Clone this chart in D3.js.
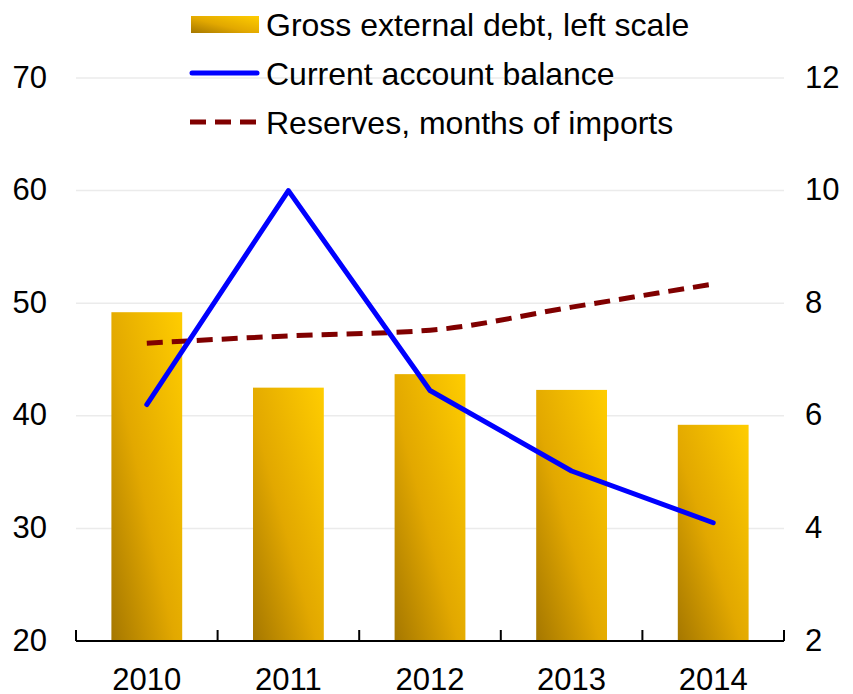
<!DOCTYPE html>
<html><head><meta charset="utf-8">
<script src="https://cdn.jsdelivr.net/npm/d3@7"></script>
<style>body{margin:0;background:#fff}svg{display:block;font-family:"Liberation Sans",Arial,sans-serif}</style>
</head><body><svg id="c" width="853" height="694"></svg>
<script>
const years = ["2010","2011","2012","2013","2014"];
const grossDebt = [49.2, 42.5, 43.7, 42.3, 39.2];
const currentAccount = [6.2, 10.0, 6.45, 5.02, 4.1];
const reserves = [7.29, 7.42, 7.52, 7.93, 8.34];
const leftTicks = [20,30,40,50,60,70];
const rightTicks = [2,4,6,8,10,12];
const legendLabels = ["Gross external debt, left scale","Current account balance","Reserves, months of imports"];

const svg = d3.select("#c");
const X0=76, X1=784, Y0=641, Y1=78;
const x = d3.scaleBand().domain(years).range([X0,X1]).paddingInner(0.5).paddingOuter(0.25);
const yL = d3.scaleLinear().domain([20,70]).range([Y0,Y1]);
const yR = d3.scaleLinear().domain([2,12]).range([Y0,Y1]);
const fs = 31;

const defs = svg.append("defs");
const g = defs.append("linearGradient").attr("id","gold").attr("x1",0).attr("y1",1).attr("x2",1).attr("y2",0);
g.append("stop").attr("offset","0%").attr("stop-color","#a57700");
g.append("stop").attr("offset","45%").attr("stop-color","#e2a800");
g.append("stop").attr("offset","100%").attr("stop-color","#ffcd00");

// gridlines
svg.append("g").selectAll("line").data(leftTicks.slice(1)).join("line")
  .attr("x1",X0).attr("x2",X1).attr("y1",d=>yL(d)).attr("y2",d=>yL(d))
  .attr("stroke","#ebebeb").attr("stroke-width",1.5);

// bars
svg.append("g").selectAll("rect").data(years).join("rect")
  .attr("x",d=>x(d)).attr("width",x.bandwidth())
  .attr("y",(d,i)=>yL(grossDebt[i])).attr("height",(d,i)=>Y0-yL(grossDebt[i]))
  .attr("fill","url(#gold)");

// x axis
const bounds = d3.range(6).map(i=>X0 + i*(X1-X0)/5);
svg.append("line").attr("x1",X0).attr("x2",X1).attr("y1",Y0).attr("y2",Y0).attr("stroke","#000").attr("stroke-width",2);
svg.append("g").selectAll("line").data(bounds).join("line")
  .attr("x1",d=>d).attr("x2",d=>d).attr("y1",Y0).attr("y2",Y0-11).attr("stroke","#000").attr("stroke-width",2);
svg.append("g").selectAll("text").data(years).join("text")
  .attr("x",d=>x(d)+x.bandwidth()/2).attr("y",690)
  .attr("text-anchor","middle").attr("font-size",fs).attr("fill","#000").text(d=>d);

// left ticks
svg.append("g").selectAll("text").data(leftTicks).join("text")
  .attr("x",47).attr("y",d=>yL(d)-1.5).attr("dy","0.36em").attr("text-anchor","end")
  .attr("font-size",fs).text(d=>d);
// right ticks
svg.append("g").selectAll("text").data(rightTicks).join("text")
  .attr("x",805).attr("y",d=>yR(d)-1.5).attr("dy","0.36em").attr("text-anchor","start")
  .attr("font-size",fs).text(d=>d);

const cx = d=>x(d)+x.bandwidth()/2;
// reserves dashed
svg.append("path").datum(years)
  .attr("d",d3.line().x(cx).y((d,i)=>yR(reserves[i])).curve(d3.curveMonotoneX))
  .attr("fill","none").attr("stroke","#800000").attr("stroke-width",5).attr("stroke-dasharray","16,9");
// current account
svg.append("path").datum(years)
  .attr("d",d3.line().x(cx).y((d,i)=>yR(currentAccount[i])))
  .attr("fill","none").attr("stroke","#0000ff").attr("stroke-width",5).attr("stroke-linejoin","round").attr("stroke-linecap","round");

// legend
const lg = svg.append("g");
const ly = [24,73,122];
lg.append("rect").attr("x",191).attr("y",16).attr("width",68).attr("height",17).attr("fill","url(#gold)");
lg.append("line").attr("x1",192).attr("x2",257).attr("y1",ly[1]).attr("y2",ly[1]).attr("stroke","#0000ff").attr("stroke-width",5).attr("stroke-linecap","round");
lg.append("line").attr("x1",190).attr("x2",258).attr("y1",ly[2]).attr("y2",ly[2]).attr("stroke","#800000").attr("stroke-width",5).attr("stroke-dasharray","16,9");
lg.selectAll("text").data(legendLabels).join("text")
  .attr("x",266).attr("y",(d,i)=>ly[i]).attr("dy","0.36em").attr("font-size",32).text(d=>d);
</script></body></html>
